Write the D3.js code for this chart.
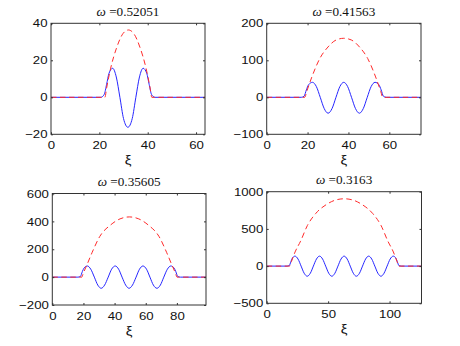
<!DOCTYPE html>
<html>
<head>
<meta charset="utf-8">
<script src="https://cdn.jsdelivr.net/npm/d3@7"></script>
<style>
  body { margin: 0; background: #fff; }
  svg { display: block; }
</style>
</head>
<body>
<svg id="chart" width="460" height="346"></svg>
<script>
// omega of each panel
var omegas = ["0.52051", "0.41563", "0.35605", "0.3163"];

// axis limits and ticks
var xMax = [63.7, 75.5, 98.7, 126];
var yMin = [-20, -100, -200, -500];
var yMax = [40, 200, 600, 1000];
var xTicks = [[0, 20, 40, 60], [0, 20, 40, 60], [0, 20, 40, 60, 80], [0, 50, 100]];
var yTicks = [[-20, 0, 20, 40], [-100, 0, 100, 200], [-200, 0, 200, 400, 600], [-500, 0, 500, 1000]];

// blue solid curves (xi, value)
var xiW1 = [0, 20.6, 22.0, 23.0, 24.0, 25.5, 27.0, 28.5, 30.0, 31.8, 33.6, 35.1, 36.6, 38.1, 39.6, 40.6, 41.6, 43.0, 63.7];
var w1 = [0, 0, 1.5, 7, 13, 15.7, 11, 0, -11.5, -16.2, -11.5, 0, 11, 15.7, 13, 7, 1.5, 0, 0];

var xiW2 = [0, 16.9, 18.3, 19.4, 20.5, 22.4, 24.3, 26.2, 28.1, 30.05, 32.0, 33.9, 35.8, 37.7, 39.6, 41.5, 43.4, 45.35, 47.3, 49.2, 51.1, 53.0, 54.9, 56.0, 57.1, 58.5, 75.5];
var w2 = [0, 0, 3, 20, 34, 40.5, 29, 0, -30, -43, -30, 0, 29, 40.5, 29, 0, -30, -43, -30, 0, 29, 40.5, 34, 20, 3, 0, 0];

var xiW3 = [0, 16.4, 18.0, 19.3, 20.4, 22.5, 24.7, 27.0, 29.2, 31.4, 33.6, 35.9, 38.1, 40.4, 42.6, 44.8, 47.1, 49.3, 51.5, 53.8, 56.0, 58.2, 60.5, 62.7, 64.9, 67.2, 69.4, 71.6, 73.9, 76.1, 78.2, 79.3, 80.6, 82.2, 98.7];
var w3 = [0, 0, 4, 40, 65, 80, 57, 0, -57, -80, -57, 0, 57, 80, 57, 0, -57, -80, -57, 0, 57, 80, 57, 0, -57, -80, -57, 0, 57, 80, 65, 40, 4, 0, 0];

var xiW4 = [0, 16.6, 18.3, 19.7, 20.8, 23, 25.5, 28, 30.5, 33, 35.5, 38, 40.5, 43, 45.5, 48, 50.5, 53, 55.5, 58, 60.5, 63, 65.5, 68, 70.5, 73, 75.5, 78, 80.5, 83, 85.5, 88, 90.5, 93, 95.5, 98, 100.5, 103, 105.2, 106.3, 107.7, 109.4, 126];
var w4 = [0, 0, 5, 60, 105, 134, 95, 0, -96, -136, -96, 0, 95, 134, 95, 0, -96, -136, -96, 0, 95, 134, 95, 0, -96, -136, -96, 0, 95, 134, 95, 0, -96, -136, -96, 0, 95, 134, 105, 60, 5, 0, 0];

// red dashed envelopes (xi, value)
var xiE1 = [0, 21.3, 22.3, 23.0, 24.7, 27.2, 29.8, 32.0, 34.2, 36.8, 39.3, 41.0, 41.7, 42.7, 63.7];
var e1 = [0, 0, 0, 5, 15.8, 27, 34.5, 36.4, 34.5, 27, 15.8, 5, 0, 0, 0];

var xiE2 = [0, 17.6, 18.6, 19.6, 22.1, 26.0, 30.0, 34.0, 37.7, 41.4, 45.4, 49.4, 53.3, 55.8, 56.8, 57.8, 75.5];
var e2 = [0, 0, 0, 16, 55, 105, 136, 155, 159.5, 155, 136, 105, 55, 16, 0, 0, 0];

var xiE3 = [0, 17.9, 18.9, 19.9, 22.5, 25.5, 30.5, 37.5, 43.5, 49.5, 55.5, 61.5, 68.5, 73.5, 76.5, 79.1, 80.1, 81.1, 98.7];
var e3 = [0, 0, 0, 28, 95, 175, 292, 375, 418, 432, 418, 375, 292, 175, 95, 28, 0, 0, 0];

var xiE4 = [0, 17.6, 18.6, 20.1, 23.1, 27.6, 33.1, 39.8, 48.8, 56.1, 63.1, 70.1, 77.4, 86.4, 93.1, 98.6, 103.1, 106.1, 107.6, 108.6, 126];
var e4 = [0, 0, 0, 60, 190, 336, 545, 705, 830, 888, 905, 888, 830, 705, 545, 336, 190, 60, 0, 0, 0];

var waves = [[xiW1, w1], [xiW2, w2], [xiW3, w3], [xiW4, w4]];
var envs = [[xiE1, e1], [xiE2, e2], [xiE3, e3], [xiE4, e4]];

// axes boxes in pixels: left, right, top, bottom
var boxes = [
  [51, 205, 23.3, 134.3],
  [266.7, 421, 23.3, 134.3],
  [52.3, 206, 193.5, 305],
  [266.7, 421.5, 191.7, 303.3]
];

var stretch = "scale(1.15,1)";
var svg = d3.select("#chart");

function zip(xs, ys) {
  return xs.map(function(x, i) { return [x, ys[i]]; });
}

boxes.forEach(function(b, i) {
  var x = d3.scaleLinear().domain([0, xMax[i]]).range([b[0], b[1]]);
  var y = d3.scaleLinear().domain([yMin[i], yMax[i]]).range([b[3], b[2]]);

  var g = svg.append("g");

  g.append("clipPath").attr("id", "clip" + i)
    .append("rect")
      .attr("x", b[0]).attr("y", b[2])
      .attr("width", b[1] - b[0]).attr("height", b[3] - b[2]);

  var line = d3.line()
      .x(function(d) { return x(d[0]); })
      .y(function(d) { return y(d[1]); })
      .curve(d3.curveMonotoneX);

  var plot = g.append("g").attr("clip-path", "url(#clip" + i + ")");

  plot.append("path")
      .attr("d", line(zip(waves[i][0], waves[i][1])))
      .attr("fill", "none")
      .attr("stroke", "#2626ff")
      .attr("stroke-width", 1);

  plot.append("path")
      .attr("d", line(zip(envs[i][0], envs[i][1])))
      .attr("fill", "none")
      .attr("stroke", "#ff2a2a")
      .attr("stroke-width", 1)
      .attr("stroke-dasharray", "5.5,3.5");

  // bottom + left axes with labels, top + right with ticks only
  var bottom = g.append("g")
      .attr("transform", "translate(0," + b[3] + ")")
      .call(d3.axisBottom(x).tickValues(xTicks[i]).tickSizeInner(-2).tickSizeOuter(0).tickPadding(6.5));
  var left = g.append("g")
      .attr("transform", "translate(" + b[0] + ",0)")
      .call(d3.axisLeft(y).tickValues(yTicks[i]).tickSizeInner(-2).tickSizeOuter(0).tickPadding(3)
        .tickFormat(function(d) { return d < 0 ? "\u2212" + Math.abs(d) : d; }));
  g.append("g")
      .attr("transform", "translate(0," + b[2] + ")")
      .call(d3.axisTop(x).tickValues(xTicks[i]).tickSizeInner(-2).tickSizeOuter(0).tickFormat(""));
  g.append("g")
      .attr("transform", "translate(" + b[1] + ",0)")
      .call(d3.axisRight(y).tickValues(yTicks[i]).tickSizeInner(-2).tickSizeOuter(0).tickFormat(""));

  g.selectAll(".domain").remove();
  g.selectAll(".tick line").attr("stroke", "#333");
  [bottom, left].forEach(function(a) {
    a.selectAll("text")
      .attr("font-family", "'Liberation Sans', Arial, sans-serif")
      .attr("font-size", 11.5)
      .attr("fill", "#111")
      .attr("transform", stretch);
  });

  g.append("rect")
      .attr("x", b[0]).attr("y", b[2])
      .attr("width", b[1] - b[0]).attr("height", b[3] - b[2])
      .attr("fill", "none")
      .attr("stroke", "#333")
      .attr("stroke-width", 1);

  var cx = (b[0] + b[1]) / 2;

  var title = g.append("text")
      .attr("transform", "translate(" + cx + "," + (b[2] - 7.5) + ") scale(1.1,1)")
      .attr("text-anchor", "middle")
      .attr("font-family", "'Liberation Serif', 'Times New Roman', serif")
      .attr("font-size", 12)
      .attr("fill", "#111");
  title.append("tspan").attr("font-style", "italic").text("\u03C9");
  title.append("tspan").text(" =" + omegas[i]);

  g.append("text")
      .attr("transform", "translate(" + cx + "," + (b[3] + 30) + ") " + stretch)
      .attr("text-anchor", "middle")
      .attr("font-family", "'Liberation Sans', Arial, sans-serif")
      .attr("font-size", 13)
      .attr("fill", "#111")
      .text("\u03BE");
});
</script>
</body>
</html>
